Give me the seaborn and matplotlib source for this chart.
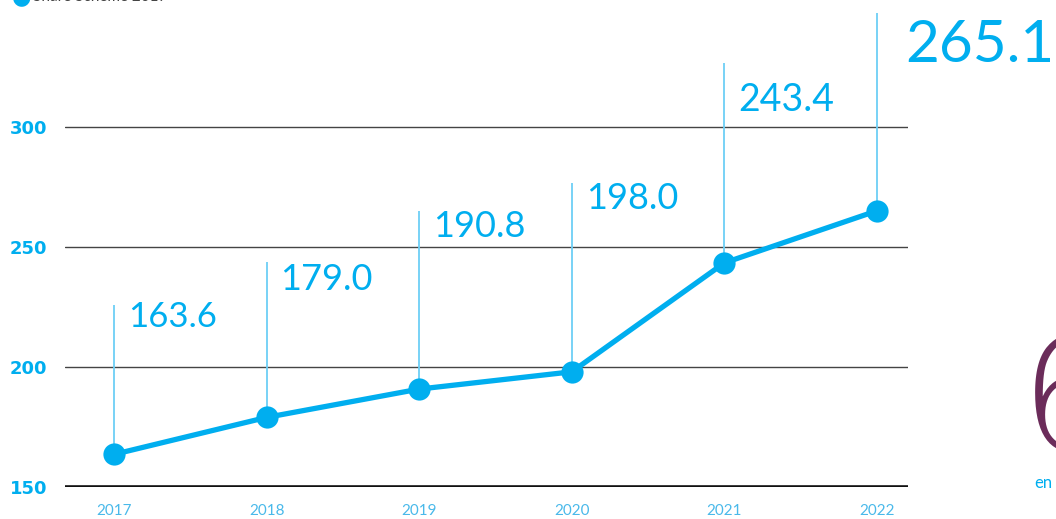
import matplotlib
matplotlib.use("Agg")
import matplotlib.pyplot as plt
import seaborn as sns
import pandas as pd
import numpy as np

# Data
years = ["2017", "2018", "2019", "2020", "2021", "2022"]
values = [163.6, 179.0, 190.8, 198.0, 243.4, 265.1]
value_labels = ["163.6", "179.0", "190.8", "198.0", "243.4", "265.1"]
y_ticks = [150, 200, 250, 300]
legend_text = "Share Scheme 2017"

# Layout (label anchor heights in data units, font sizes, offsets in points)
stem_tops = [225.8, 243.8, 265.0, 276.7, 326.7, 347.5]
label_sizes = [25, 26, 26, 26, 27, 42]
label_drop = [0, 4, 2, 2, 17, 7]
label_dx = [10, 10, 10, 10, 10, 20]

sns.set_theme(style="white")
plt.rcParams['font.family'] = ['Lato', 'DejaVu Sans']

CYAN = "#00AEEF"
STEM = "#6dcff6"
W, H = 1056, 519
fig = plt.figure(figsize=(W / 100, H / 100), dpi=100)
ax = fig.add_axes([65 / W, (H - 487) / H, (908 - 65) / W, 487 / H])

df = pd.DataFrame({"x": np.arange(len(years)), "value": values})

# gridlines
for t in y_ticks:
    if t == 150:
        ax.axhline(t, color="#111111", lw=2.6, zorder=1)
    else:
        ax.axhline(t, color="#444444", lw=1.0, zorder=1)

# stems
ax.vlines(df["x"], df["value"], stem_tops, color=STEM, lw=1.3, zorder=2)

sns.lineplot(data=df, x="x", y="value", ax=ax, color=CYAN, linewidth=3.8,
             marker="o", markersize=16, markeredgewidth=0, zorder=3)

for i, (lab, top, fs, dr, dx) in enumerate(zip(value_labels, stem_tops, label_sizes,
                                              label_drop, label_dx)):
    ax.annotate(lab, (i, top), xytext=(dx, 3 - dr), textcoords="offset points",
                ha="left", va="top", fontsize=fs, color=CYAN,
                annotation_clip=False, clip_on=False)

ax.set_xlim(-0.321, 5.203)
ax.set_ylim(150, 150 + 487 / 2.4)
ax.set_xticks(range(len(years)))
ax.set_xticklabels(years, color="#49b9ea", fontsize=11)
ax.set_yticks(y_ticks)
ax.set_yticklabels([str(t) for t in y_ticks], color=CYAN, fontsize=13,
                   fontweight="bold", family=["DejaVu Sans"])
ax.tick_params(axis="both", length=0)
ax.tick_params(axis="y", pad=13)
ax.tick_params(axis="x", pad=12)
ax.set_xlabel("")
ax.set_ylabel("")
for s in ax.spines.values():
    s.set_visible(False)
ax.patch.set_alpha(0)

# legend fragment at top (cut off by page edge)
fig.text(12 / W, 1 + 3 / H, "\u25CF", color=CYAN, fontsize=16, ha="left", va="center",
         family=["DejaVu Sans"])
fig.text(33 / W, 1 + 3 / H, legend_text, color="#444444", fontsize=11, ha="left", va="center")

# fragments from neighbouring page content
fig.text(1020 / W, 1 - 450 / H, "6", color="#6b2c5a", fontsize=112, ha="left",
         va="baseline", fontweight="light", family=["DejaVu Sans"])
fig.text(1034 / W, 1 - 488 / H, "en", color=CYAN, fontsize=12, ha="left", va="baseline")

fig.savefig("out.png", dpi=100)
